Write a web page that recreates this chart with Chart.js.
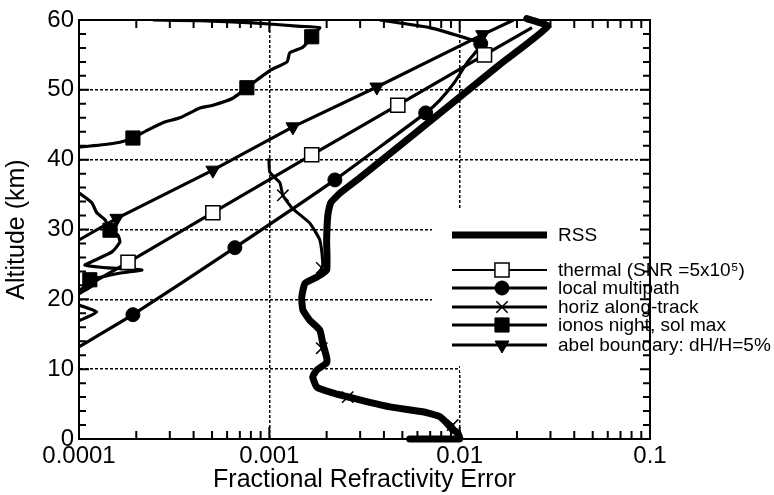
<!DOCTYPE html>
<html>
<head>
<meta charset="utf-8">
<script src="https://cdn.jsdelivr.net/npm/chart.js@4.4.1/dist/chart.umd.min.js"></script>
<style>
  html, body { margin: 0; padding: 0; background: #fff; }
  #wrap { position: relative; width: 774px; height: 495px; }
  #legend span {
    position: absolute;
    left: 558px;
    font: 19px/22px 'Liberation Sans', Arial, Helvetica, sans-serif;
    color: #000;
    white-space: nowrap;
  }
</style>
</head>
<body>
<div id="wrap">
  <canvas id="chart" width="774" height="495"></canvas>
  <div id="legend"></div>
</div>
<script>
// Refractivity error budget: fractional error (log axis) against altitude (km)
const xTickValues = [0.0001, 0.001, 0.01, 0.1];
const xTickLabels = ["0.0001", "0.001", "0.01", "0.1"];

// thermal noise, SNR = 5x10^5
const thermalErr = [1.0e-4, 1.81e-4, 5.05e-4, 1.67e-3, 4.73e-3, 1.35e-2, 2.4e-2];
const thermalAlt = [21.3, 25.3, 32.4, 40.7, 47.8, 55.0, 58.9];
const thermalMarks = [1, 2, 3, 4, 5];

// local multipath
const multipathErr = [1.0e-4, 1.92e-4, 6.59e-4, 2.21e-3, 6.63e-3, 7.85e-3, 9.41e-3, 1.10e-2, 1.24e-2, 1.29e-2, 1.17e-2, 6.96e-3, 3.8e-3];
const multipathAlt = [13.2, 17.8, 27.4, 37.1, 46.7, 48.5, 51.1, 54.0, 55.7, 56.6, 57.1, 58.9, 60.0];
const multipathMarks = [1, 2, 3, 4, 9];

// horizontal along-track
const alongErr = [9.94e-4, 1.006e-3, 1.136e-3, 1.178e-3, 1.313e-3, 1.632e-3, 1.841e-3, 1.909e-3, 1.886e-3, 1.776e-3,
  1.536e-3, 1.48e-3, 1.50e-3, 1.63e-3, 1.84e-3, 1.886e-3, 2.0e-3, 2.0e-3, 1.776e-3, 1.69e-3,
  1.776e-3, 2.15e-3, 2.58e-3, 4.29e-3, 6.39e-3, 7.85e-3, 9.19e-3, 9.64e-3, 1.0e-2];
const alongAlt = [40.2, 38.2, 36.7, 34.9, 33.1, 30.9, 28.5, 25.2, 24.5, 23.2,
  22.3, 20.3, 18.5, 17.0, 15.6, 13.0, 11.7, 10.9, 9.9, 8.9,
  7.4, 6.6, 6.0, 4.6, 3.9, 3.2, 2.0, 0.3, 0];
const alongMarks = [3, 8, 15, 22, 26];

// ionosphere, night, solar max
const ionosErr = [2.45e-4, 4.32e-4, 8.19e-4, 1.45e-3, 1.84e-3, 1.71e-3, 1.67e-3, 1.50e-3, 1.28e-3, 1.24e-3,
  1.01e-3, 8.6e-4, 7.62e-4, 6.43e-4, 5.05e-4, 4.32e-4, 3.39e-4, 2.76e-4, 2.28e-4, 1.92e-4,
  1.64e-4, 1.29e-4, 1.0e-4, 8.0e-5, 8.0e-5, 1.0e-4, 1.17e-4, 1.24e-4, 1.37e-4, 1.455e-4,
  1.60e-4, 1.64e-4, 1.49e-4, 1.21e-4, 1.075e-4, 1.42e-4, 2.14e-4, 1.68e-4, 1.32e-4, 1.14e-4,
  1.21e-4, 1.075e-4, 1.0e-4, 9.0e-5, 1.0e-4, 1.24e-4, 1.01e-4, 9.0e-5];
const ionosAlt = [60.0, 59.9, 59.6, 59.1, 58.9, 58.1, 57.6, 56.1, 55.3, 54.0,
  52.8, 51.4, 50.3, 48.8, 47.8, 47.4, 46.0, 45.3, 44.2, 43.1,
  42.5, 42.1, 41.8, 41.4, 36.0, 35.2, 33.8, 32.4, 31.4, 29.9,
  29.2, 28.2, 26.8, 25.6, 24.9, 24.5, 24.2, 23.8, 23.2, 22.8,
  22.2, 21.3, 20.8, 19.9, 19.2, 18.2, 17.0, 16.8];
const ionosMarks = [6, 12, 19, 29, 39];

// Abel boundary, dH/H = 5%
const abelErr = [1.0e-4, 1.58e-4, 5.05e-4, 1.33e-3, 3.67e-3, 1.32e-2, 1.92e-2];
const abelAlt = [28.5, 31.6, 38.5, 44.7, 50.4, 57.9, 60.0];
const abelMarks = [1, 2, 3, 4, 5];

// root sum square of all terms
const rssErr = [5.46e-3, 1.0e-2, 9.76e-3, 9.19e-3, 8.55e-3, 7.85e-3, 6.39e-3, 4.29e-3, 2.99e-3, 2.15e-3,
  1.78e-3, 1.69e-3, 1.78e-3, 2.0e-3, 2.0e-3, 1.91e-3, 1.84e-3, 1.63e-3, 1.50e-3, 1.48e-3,
  1.54e-3, 1.78e-3, 2.0e-3, 2.0e-3, 2.03e-3, 2.10e-3, 2.35e-3, 2.99e-3, 4.84e-3, 8.86e-3,
  1.62e-2, 2.9e-2, 2.25e-2];
const rssAlt = [0, 0, 0.9, 1.3, 2.3, 3.2, 3.9, 4.6, 5.6, 6.6,
  7.4, 8.9, 9.9, 10.9, 11.7, 13.7, 15.6, 17.0, 18.5, 20.3,
  22.3, 23.2, 24.2, 28.5, 32.1, 33.8, 35.2, 37.4, 42.0, 47.8,
  53.6, 59.1, 60.2];

const FONT = "'Liberation Sans', Arial, Helvetica, sans-serif";
Chart.defaults.font.family = FONT;
Chart.defaults.color = "#000";

function points(err, alt) {
  return err.map((v, i) => ({ x: v, y: alt[i] }));
}

function series(label, err, alt, marks, style) {
  return Object.assign({
    label: label,
    data: points(err, alt),
    borderColor: "#000",
    backgroundColor: "#000",
    pointBorderColor: "#000",
    borderWidth: 3.2,
    tension: 0.15,
    pointRadius: (c) => (marks.includes(c.dataIndex) ? style.radius : 0),
    pointHoverRadius: 0,
  }, style);
}

const datasets = [
  series("thermal (SNR =5x10⁵)", thermalErr, thermalAlt, thermalMarks,
    { pointStyle: "rect", radius: 10, pointBackgroundColor: "#fff", pointBorderWidth: 1.5, tension: 0, legendWidth: 2 }),
  series("local multipath", multipathErr, multipathAlt, multipathMarks,
    { pointStyle: "circle", radius: 7, pointBackgroundColor: "#000", pointBorderWidth: 1 }),
  series("horiz along-track", alongErr, alongAlt, alongMarks,
    { pointStyle: "crossRot", radius: 8, pointBorderWidth: 1.5, borderWidth: 3 }),
  series("ionos night, sol max", ionosErr, ionosAlt, ionosMarks,
    { pointStyle: "rect", radius: 10, pointBackgroundColor: "#000", pointBorderWidth: 1 }),
  series("abel boundary: dH/H=5%", abelErr, abelAlt, abelMarks,
    { pointStyle: "triangle", radius: 8, pointRotation: 180, pointBackgroundColor: "#000", pointBorderWidth: 1, tension: 0 }),
  {
    label: "RSS",
    data: points(rssErr, rssAlt),
    borderColor: "#000",
    borderWidth: 7,
    borderJoinStyle: "round",
    borderCapStyle: "round",
    tension: 0.15,
    pointRadius: 0,
    clip: 5,
  },
];

// legend layout: white panel hiding the grid, sample lines, markers, labels
const legendPanels = [[432, 208, 650, 366], [460, 366, 650, 372]];
const legendLineX = [452, 547];
const legendMarkX = 502;
const rssRowY = 235;
const legendRowsY = [270, 288, 307, 325, 345];

// labels as page text, centred on their rows
const legendBox = document.getElementById("legend");
[["RSS", rssRowY]].concat(datasets.slice(0, 5).map((d, i) => [d.label, legendRowsY[i]]))
  .forEach(([text, y]) => {
    const s = document.createElement("span");
    s.textContent = text;
    s.style.top = (y - 11) + "px";
    legendBox.appendChild(s);
  });

const legendPlugin = {
  id: "legendPanel",
  beforeDatasetsDraw(chart) {
    const ctx = chart.ctx;
    ctx.save();
    ctx.fillStyle = "#fff";
    legendPanels.forEach(([l, t, r, b]) => ctx.fillRect(l, t, r - l, b - t));
    ctx.restore();
  },
  afterDraw(chart) {
    const ctx = chart.ctx;
    ctx.save();
    ctx.strokeStyle = "#000";

    ctx.lineWidth = 7;
    ctx.beginPath();
    ctx.moveTo(legendLineX[0], rssRowY);
    ctx.lineTo(legendLineX[1], rssRowY);
    ctx.stroke();

    for (let i = 0; i < 5; i++) {
      const ds = chart.data.datasets[i];
      const y = legendRowsY[i];
      ctx.lineWidth = ds.legendWidth || ds.borderWidth;
      ctx.beginPath();
      ctx.moveTo(legendLineX[0], y);
      ctx.lineTo(legendLineX[1], y);
      ctx.stroke();
      ctx.fillStyle = ds.pointBackgroundColor || "#000";
      ctx.lineWidth = ds.pointBorderWidth;
      Chart.helpers.drawPoint(ctx, {
        pointStyle: ds.pointStyle,
        radius: ds.radius,
        rotation: ds.pointRotation || 0,
        borderWidth: ds.pointBorderWidth,
      }, legendMarkX, y);
    }
    ctx.restore();
  },
};

// closed frame with inward ticks on all four sides
const framePlugin = {
  id: "frameTicks",
  afterDraw(chart) {
    const { ctx, chartArea: a, scales } = chart;
    const x = scales.x, y = scales.y;
    ctx.save();
    ctx.strokeStyle = "#000";
    ctx.lineWidth = 2;
    ctx.strokeRect(a.left, a.top, a.right - a.left, a.bottom - a.top);
    ctx.beginPath();
    for (let alt = 2; alt < 60; alt += 2) {
      const py = y.getPixelForValue(alt);
      const len = alt % 10 === 0 ? 10 : 7;
      ctx.moveTo(a.left, py); ctx.lineTo(a.left + len, py);
      ctx.moveTo(a.right, py); ctx.lineTo(a.right - len, py);
    }
    for (let e = -4; e <= -2; e++) {
      for (let m = 1; m <= 9; m++) {
        if (e === -4 && m === 1) continue;
        const px = x.getPixelForValue(m * Math.pow(10, e));
        const len = m === 1 ? 12 : 8;
        ctx.moveTo(px, a.bottom); ctx.lineTo(px, a.bottom - len);
        ctx.moveTo(px, a.top); ctx.lineTo(px, a.top + len);
      }
    }
    ctx.stroke();
    ctx.restore();
  },
};

new Chart(document.getElementById("chart"), {
  type: "line",
  data: { datasets: datasets },
  options: {
    responsive: false,
    animation: false,
    devicePixelRatio: 1,
    layout: { padding: { left: 0, right: 124, top: 20, bottom: 0 } },
    plugins: { legend: { display: false }, tooltip: { enabled: false } },
    scales: {
      x: {
        type: "logarithmic",
        min: 0.0001,
        max: 0.1,
        afterBuildTicks: (scale) => { scale.ticks = xTickValues.map((v) => ({ value: v })); },
        afterFit: (scale) => { scale.height = 56; },
        ticks: {
          autoSkip: false,
          maxRotation: 0,
          padding: 3,
          font: { size: 24 },
          callback: (v, i) => xTickLabels[i],
        },
        grid: {
          drawTicks: false,
          lineWidth: 1.5,
          color: (c) => (c.tick && (c.tick.value === 0.001 || c.tick.value === 0.01) ? "#000" : "rgba(0,0,0,0)"),
        },
        border: { display: true, color: "#000", width: 2, dash: [3, 2] },
        title: {
          display: true,
          text: "Fractional Refractivity Error",
          font: { size: 25 },
          padding: { top: 0, bottom: 0 },
        },
      },
      y: {
        min: 0,
        max: 60,
        afterFit: (scale) => { scale.width = 79; },
        ticks: { stepSize: 10, padding: 5, font: { size: 24 } },
        grid: {
          drawTicks: false,
          lineWidth: 1.5,
          color: (c) => (c.tick && c.tick.value > 0 && c.tick.value < 60 ? "#000" : "rgba(0,0,0,0)"),
        },
        border: { display: true, color: "#000", width: 2, dash: [3, 2] },
        title: {
          display: true,
          text: "Altitude (km)",
          font: { size: 25 },
          padding: { top: 2, bottom: 0 },
        },
      },
    },
  },
  plugins: [legendPlugin, framePlugin],
});
</script>
</body>
</html>
